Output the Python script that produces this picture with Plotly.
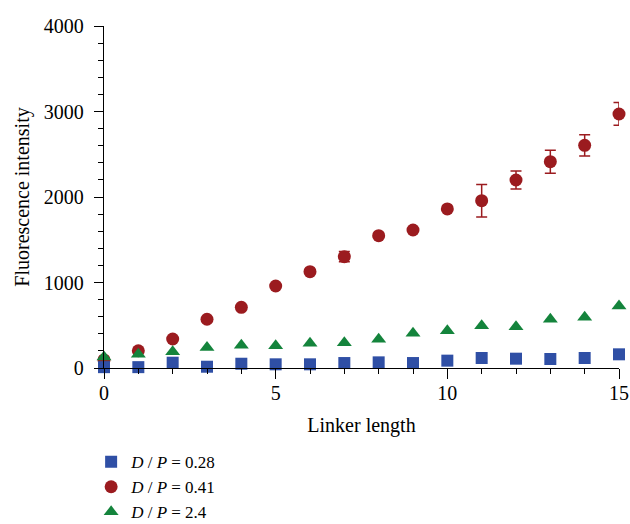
import plotly.graph_objects as go

linker = list(range(16))
dp028 = [10, 10, 62, 15, 50, 43, 43, 58, 66, 58, 86, 117, 109, 105, 117, 160]
dp041 = [95, 202, 339, 570, 710, 959, 1127, 1302, 1548, 1614, 1860, 1957, 2199, 2413, 2604, 2971]
dp041_err = [0, 0, 0, 0, 0, 0, 0, 60, 0, 0, 0, 190, 105, 135, 125, 133]
dp24 = [130, 160, 190, 240, 265, 260, 290, 296, 335, 405, 436, 495, 483, 570, 593, 725]

names = ["<i>D</i> / <i>P</i> = 0.28", "<i>D</i> / <i>P</i> = 0.41", "<i>D</i> / <i>P</i> = 2.4"]
blue, red, green = "#2f4fa5", "#9b1b1f", "#14843c"
font = "Liberation Serif"
fs = 20

fig = go.Figure()
fig.add_trace(go.Scatter(
    x=linker, y=dp041, mode="markers", name=names[1], legendrank=2,
    marker=dict(symbol="circle", size=13, color=red),
    error_y=dict(type="data", array=dp041_err, visible=True, color=red, thickness=1.5, width=5.5),
    cliponaxis=False))
fig.add_trace(go.Scatter(
    x=linker, y=dp24, mode="markers", name=names[2], legendrank=3,
    marker=dict(symbol="triangle-up", size=13, color=green),
    cliponaxis=False))
fig.add_trace(go.Scatter(
    x=linker, y=dp028, mode="markers", name=names[0], legendrank=1,
    marker=dict(symbol="square", size=12, color=blue),
    cliponaxis=False))

fig.update_layout(
    width=630, height=524,
    margin=dict(l=104, r=11, t=26, b=156, autoexpand=False),
    paper_bgcolor="white", plot_bgcolor="white",
    font=dict(family=font, size=fs, color="black"),
    showlegend=True,
    legend=dict(x=-0.025, y=-0.474, xanchor="left", yanchor="bottom",
                font=dict(family=font, size=17), tracegroupgap=0,
                bgcolor="rgba(0,0,0,0)"),
    xaxis=dict(range=[0, 15], showgrid=False, zeroline=False, automargin=False,
               showline=True, linecolor="black", linewidth=1.3,
               ticks="outside", ticklen=10, tickcolor="black", tickwidth=1.3,
               tickvals=[0, 5, 10, 15], ticklabelstandoff=-3,
               minor=dict(ticks="outside", ticklen=5, dtick=1, tick0=0, tickcolor="black", tickwidth=1.3),
               tickfont=dict(family=font, size=fs),
               title=dict(text="Linker length", font=dict(family=font, size=fs), standoff=14)),
    yaxis=dict(range=[0, 4000], showgrid=False, zeroline=False, automargin=False,
               showline=True, linecolor="black", linewidth=1.3,
               ticks="outside", ticklen=9, tickcolor="black", tickwidth=1.3,
               tickvals=[0, 1000, 2000, 3000, 4000],
               minor=dict(ticks="outside", ticklen=5, dtick=200, tick0=0, tickcolor="black", tickwidth=1.3),
               tickfont=dict(family=font, size=fs), ticklabelstandoff=6,
               title=dict(text="Fluorescence intensity", font=dict(family=font, size=fs), standoff=8)),
)

fig.write_html("out.html", config={"displayModeBar": False},
               post_script="document.body.style.margin='0';document.body.style.overflow='hidden';")
